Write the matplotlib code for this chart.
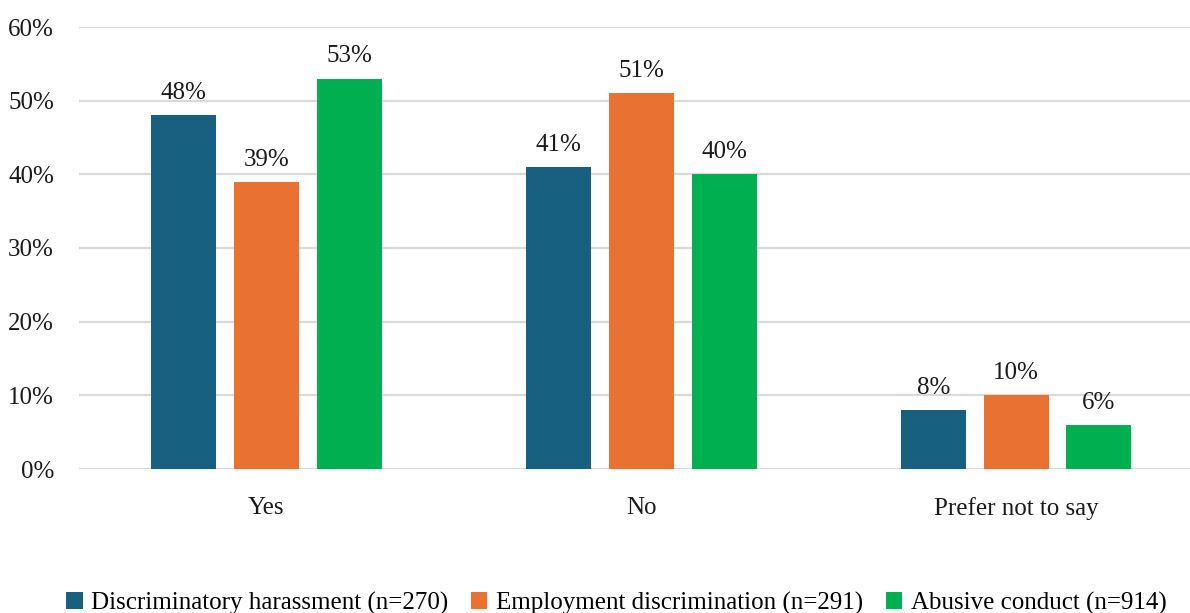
import matplotlib
matplotlib.use('Agg')
import matplotlib.pyplot as plt
import numpy as np

categories = ['Yes', 'No', 'Prefer not to say']
series_names = ['Discriminatory harassment (n=270)',
                'Employment discrimination (n=291)',
                'Abusive conduct (n=914)']
harassment = [48, 41, 8]
discrimination = [39, 51, 10]
abusive = [53, 40, 6]
colors = ['#17607F', '#E97132', '#00B050']

plt.rcParams['font.family'] = ['Liberation Serif', 'DejaVu Serif']

fig = plt.figure(figsize=(11.9, 6.13), dpi=100)
ax = fig.add_axes([79/1190, 144/613, 1 - 79/1190, (469-27)/613])

x = np.arange(len(categories))
width = 0.173
step = 0.221
for i, (vals, name) in enumerate(zip([harassment, discrimination, abusive], series_names)):
    bars = ax.bar(x + (i - 1) * step, vals, width, color=colors[i], label=name, zorder=3)
    for b, v in zip(bars, vals):
        ax.annotate(f'{v}%', (b.get_x() + b.get_width() / 2, v),
                    xytext=(0, 8), textcoords='offset points',
                    ha='center', va='bottom', fontsize=18, color='#1a1a1a')

ax.set_ylim(0, 60)
ax.set_yticks(range(0, 61, 10))
ax.set_yticklabels([f'{t}%' for t in range(0, 61, 10)])
ax.set_xlim(-0.5, (1190 - 266) / 375)
ax.set_xticks(x)
ax.set_xticklabels(categories)
ax.grid(axis='y', color='#D9D9D9', linewidth=1.6, zorder=0)
for s in ax.spines.values():
    s.set_visible(False)
ax.tick_params(axis='both', length=0, labelsize=18, colors='#1a1a1a')
ax.tick_params(axis='y', pad=18)
ax.tick_params(axis='x', pad=20)

fig.legend(loc='lower center', bbox_to_anchor=(0.518, -0.04), ncol=3, frameon=False,
           fontsize=18, handlelength=0.65, handleheight=0.65, handletextpad=0.35,
           columnspacing=0.9)

fig.savefig('out.png', dpi=100)
